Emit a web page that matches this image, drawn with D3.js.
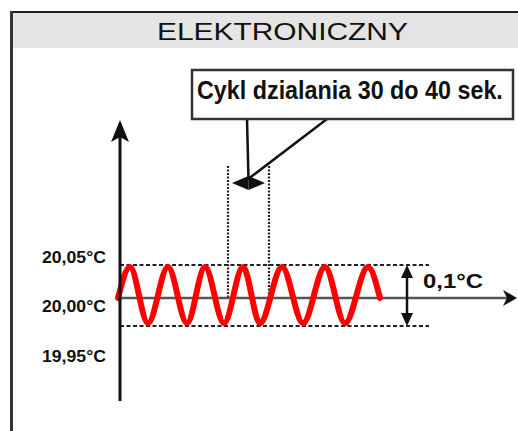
<!DOCTYPE html>
<html>
<head>
<meta charset="utf-8">
<script src="https://cdn.jsdelivr.net/npm/d3@7/dist/d3.min.js"></script>
<style>
  body { margin: 0; background: #fff; }
  svg { display: block; }
</style>
</head>
<body>
<svg id="chart"></svg>
<script>
// data
const title = "ELEKTRONICZNY";
const calloutText = "Cykl dzialania 30 do 40 sek.";
const bandText = "0,1°C";
const tickTemps = [20.05, 20.00, 19.95];
const tickLabels = ["20,05°C", "20,00°C", "19,95°C"];
// wave turning points (time in s, temperature in °C)
const waveTimes = [0, 12, 30, 50, 69, 87, 106, 125, 142, 164, 185, 207, 227, 250, 262];
const waveTemps = [20.00, 20.047, 19.955, 20.047, 19.955, 20.047, 19.955, 20.047, 19.955, 20.047, 19.955, 20.047, 19.955, 20.047, 20.00];
const cycleTimes = [110, 151]; // one working cycle marked on the plot

const width = 518;
const height = 431;
const narrow = "'Liberation Sans Narrow', 'Arial Narrow', 'Liberation Sans', sans-serif";

const svg = d3.select("#chart")
    .attr("width", width)
    .attr("height", height);

// squeeze a text horizontally so it spans w pixels
function squeeze(sel, x0, y0, w) {
    const natural = sel.node().getComputedTextLength();
    sel.attr("x", 0).attr("y", 0)
        .attr("transform", `translate(${x0},${y0}) scale(${w / natural},1)`);
}

// scales
const x = d3.scaleLinear().domain([0, 400]).range([118, 518]);
const y = d3.scaleLinear().domain([19.95, 20.00, 20.05]).range([326, 298, 265]);
const yLabel = d3.scaleLinear().domain([19.95, 20.05]).range([355, 256]);

// frame + header
svg.append("rect")
    .attr("x", 12).attr("y", 13)
    .attr("width", width - 12).attr("height", 35)
    .attr("fill", "#e4e4e4");
svg.append("line")
    .attr("x1", 11).attr("x2", width).attr("y1", 12).attr("y2", 12)
    .attr("stroke", "#222").attr("stroke-width", 2);
svg.append("line")
    .attr("x1", 11.5).attr("x2", 11.5).attr("y1", 11).attr("y2", height)
    .attr("stroke", "#333").attr("stroke-width", 3);
const titleText = svg.append("text")
    .style("font-family", "'Liberation Sans', Arial, sans-serif")
    .style("font-size", "23px")
    .attr("fill", "#111")
    .text(title);
squeeze(titleText, 157, 40, 251);

// band lines (dashed)
svg.selectAll(".band")
    .data([20.05, 19.95])
    .enter().append("line")
    .attr("class", "band")
    .attr("x1", x(2)).attr("x2", 429)
    .attr("y1", d => y(d)).attr("y2", d => y(d))
    .attr("stroke", "#222").attr("stroke-width", 2.2)
    .attr("stroke-dasharray", "4,2.5");

// cycle markers (dotted verticals)
svg.selectAll(".cycle")
    .data(cycleTimes)
    .enter().append("line")
    .attr("class", "cycle")
    .attr("x1", d => x(d)).attr("x2", d => x(d))
    .attr("y1", 166).attr("y2", y(20.00))
    .attr("stroke", "#222").attr("stroke-width", 2.2)
    .attr("stroke-dasharray", "2,1.5");

// x axis (mid line) with arrow
svg.append("line")
    .attr("x1", x(2)).attr("x2", 510)
    .attr("y1", y(20.00)).attr("y2", y(20.00))
    .attr("stroke", "#555").attr("stroke-width", 2.5);
svg.append("path")
    .attr("d", `M517,${y(20.00)} L503,${y(20.00) - 8} L507,${y(20.00)} L503,${y(20.00) + 8} Z`)
    .attr("fill", "#111");

// wave
const line = d3.line()
    .x((d, i) => x(waveTimes[i]))
    .y(d => y(d))
    .curve(d3.curveMonotoneX);
svg.append("path")
    .datum(waveTemps)
    .attr("d", line)
    .attr("fill", "none")
    .attr("stroke", "#ff0000")
    .attr("stroke-width", 6)
    .attr("stroke-linecap", "round");

// y axis with arrow
svg.append("line")
    .attr("x1", 120).attr("x2", 120)
    .attr("y1", 135).attr("y2", 401)
    .attr("stroke", "#111").attr("stroke-width", 3);
svg.append("path")
    .attr("d", "M120,120 L129,142 L120,137 L111,142 Z")
    .attr("fill", "#111");

// tick labels
const yAxis = svg.append("g")
    .call(d3.axisLeft(yLabel).tickValues(tickTemps).tickSize(0).tickPadding(0)
        .tickFormat((d, i) => tickLabels[i]));
yAxis.select(".domain").remove();
yAxis.selectAll(".tick text")
    .attr("text-anchor", "start")
    .attr("dy", null)
    .style("font-family", narrow)
    .style("font-weight", "bold")
    .style("font-size", "16px")
    .attr("fill", "#111")
    .each(function () { squeeze(d3.select(this), 42, 6, 64); });

// band size arrow
const bx = 407;
svg.append("line")
    .attr("x1", bx).attr("x2", bx)
    .attr("y1", y(20.05) + 8).attr("y2", y(19.95) - 8)
    .attr("stroke", "#111").attr("stroke-width", 2.5);
svg.append("path")
    .attr("d", `M${bx},${y(20.05)} L${bx + 6},${y(20.05) + 13} L${bx - 6},${y(20.05) + 13} Z`)
    .attr("fill", "#111");
svg.append("path")
    .attr("d", `M${bx},${y(19.95)} L${bx + 6},${y(19.95) - 13} L${bx - 6},${y(19.95) - 13} Z`)
    .attr("fill", "#111");
const bandLabel = svg.append("text")
    .style("font-family", narrow)
    .style("font-weight", "bold")
    .style("font-size", "21px")
    .attr("fill", "#111")
    .text(bandText);
squeeze(bandLabel, 423, 288, 60);

// cycle double arrow
const cx = (x(cycleTimes[0]) + x(cycleTimes[1])) / 2;
const cy = 183;
svg.append("path")
    .attr("d", `M${cx},${cy - 7} L${x(cycleTimes[0]) + 4},${cy} L${cx},${cy + 7} Z`)
    .attr("fill", "#111");
svg.append("path")
    .attr("d", `M${cx},${cy - 7} L${x(cycleTimes[1]) - 4},${cy} L${cx},${cy + 7} Z`)
    .attr("fill", "#111");

// callout
svg.append("line")
    .attr("x1", 247).attr("y1", 119).attr("x2", cx).attr("y2", cy - 3)
    .attr("stroke", "#111").attr("stroke-width", 2.5);
svg.append("line")
    .attr("x1", 327).attr("y1", 119).attr("x2", cx + 1).attr("y2", cy - 5)
    .attr("stroke", "#111").attr("stroke-width", 2.5);
svg.append("rect")
    .attr("x", 192).attr("y", 70)
    .attr("width", 321).attr("height", 49)
    .attr("fill", "#fff")
    .attr("stroke", "#333").attr("stroke-width", 2.5);
const callout = svg.append("text")
    .style("font-family", narrow)
    .style("font-weight", "bold")
    .style("font-size", "26px")
    .attr("fill", "#111")
    .text(calloutText);
squeeze(callout, 197, 99, 306);
</script>
</body>
</html>
